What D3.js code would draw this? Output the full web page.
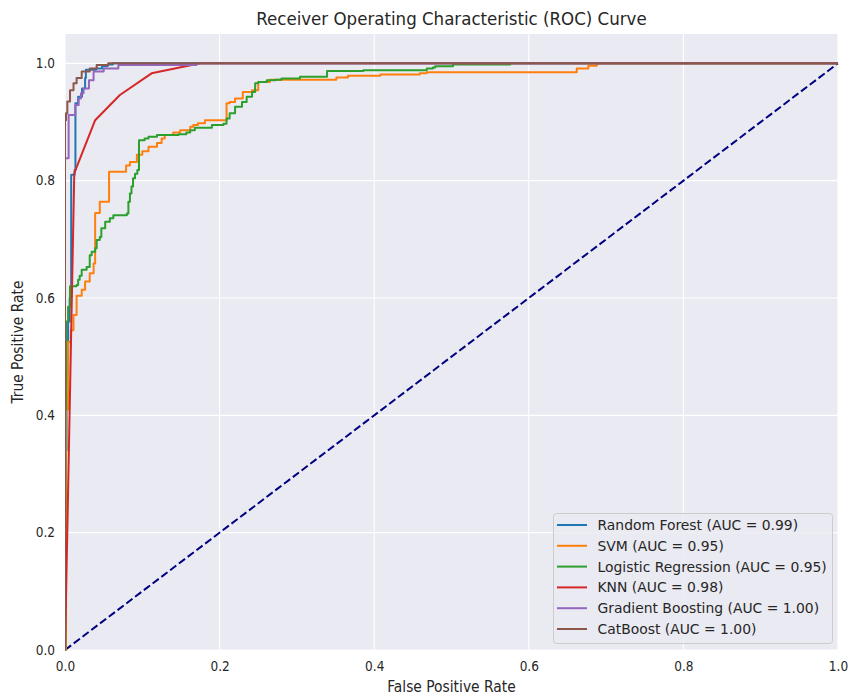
<!DOCTYPE html>
<html>
<head>
<meta charset="utf-8">
<script src="https://cdn.jsdelivr.net/npm/d3@7/dist/d3.min.js"></script>
<style>
  html, body { margin: 0; padding: 0; background: #ffffff; }
  svg { display: block; }
  .cond { font-family: "DejaVu Sans Condensed", "DejaVu Sans", sans-serif; font-stretch: condensed; }
  .leg { font-family: "DejaVu Sans", sans-serif; }
</style>
</head>
<body>
<svg id="chart" width="851" height="700"></svg>
<script>
// ROC points per model: [false positive rate, true positive rate]
const rfRoc = [[0,0],[0,0.34],[0.002,0.47],[0.004,0.56],[0.006,0.60],[0.008,0.81],[0.0125,0.818],[0.0135,0.932],[0.017,0.943],[0.022,0.957],[0.026,0.975],[0.027,0.989],[0.04,0.991],[0.048,0.995],[0.055,0.998],[0.062,1],[1,1]];
const svmRoc = [[0,0],[0.0013,0.41],[0.004,0.525],[0.0075,0.545],[0.011,0.571],[0.015,0.604],[0.0216,0.614],[0.026,0.628],[0.032,0.642],[0.037,0.659],[0.039,0.745],[0.045,0.764],[0.057,0.815],[0.079,0.826],[0.084,0.832],[0.093,0.844],[0.1,0.85],[0.108,0.858],[0.119,0.864],[0.125,0.872],[0.129,0.878],[0.14,0.882],[0.149,0.886],[0.162,0.892],[0.166,0.895],[0.172,0.898],[0.181,0.903],[0.209,0.932],[0.213,0.934],[0.22,0.94],[0.23,0.951],[0.242,0.954],[0.25,0.968],[0.265,0.972],[0.351,0.976],[0.366,0.979],[0.408,0.981],[0.459,0.983],[0.468,0.985],[0.662,0.991],[0.677,0.996],[0.688,1],[1,1]];
const lrRoc = [[0,0],[0.0005,0.41],[0.0013,0.56],[0.004,0.585],[0.0065,0.62],[0.015,0.622],[0.017,0.631],[0.019,0.638],[0.0216,0.648],[0.028,0.653],[0.032,0.673],[0.0345,0.679],[0.039,0.685],[0.041,0.699],[0.045,0.704],[0.047,0.719],[0.052,0.73],[0.058,0.736],[0.0625,0.741],[0.08,0.744],[0.082,0.764],[0.084,0.778],[0.086,0.79],[0.088,0.804],[0.0906,0.812],[0.0936,0.818],[0.0957,0.869],[0.103,0.872],[0.108,0.875],[0.119,0.878],[0.147,0.879],[0.157,0.882],[0.162,0.886],[0.168,0.89],[0.19,0.895],[0.205,0.897],[0.209,0.906],[0.213,0.915],[0.22,0.926],[0.229,0.934],[0.235,0.943],[0.242,0.951],[0.246,0.966],[0.25,0.968],[0.261,0.971],[0.272,0.972],[0.28,0.974],[0.304,0.977],[0.339,0.987],[0.386,0.988],[0.468,0.991],[0.476,0.993],[0.479,0.995],[0.502,0.998],[0.576,1],[1,1]];
const knnRoc = [[0,0],[0.012,0.813],[0.039,0.903],[0.071,0.946],[0.112,0.983],[0.175,1],[1,1]];
const gbRoc = [[0,0],[0,0.838],[0.0047,0.912],[0.0134,0.929],[0.0177,0.94],[0.0207,0.949],[0.024,0.957],[0.031,0.971],[0.037,0.986],[0.05,0.991],[0.069,0.997],[0.17,1],[1,1]];
const cbRoc = [[0,0],[0,0.903],[0.0013,0.915],[0.003,0.935],[0.0065,0.954],[0.011,0.966],[0.015,0.975],[0.0216,0.986],[0.032,0.991],[0.041,0.997],[0.056,1],[1,1]];

const modelNames = ["Random Forest", "SVM", "Logistic Regression", "KNN", "Gradient Boosting", "CatBoost"];
const aucValues = ["0.99", "0.95", "0.95", "0.98", "1.00", "1.00"];
const modelColors = ["#1f77b4", "#ff7f0e", "#2ca02c", "#d62728", "#9467bd", "#8c564b"];
const modelCurves = [rfRoc, svmRoc, lrRoc, knnRoc, gbRoc, cbRoc];
const stepped = [true, true, true, false, true, true];

const xTicks = [0, 0.2, 0.4, 0.6, 0.8, 1.0];
const yTicks = [0, 0.2, 0.4, 0.6, 0.8, 1.0];

const svg = d3.select("#chart");
const plotLeft = 65, plotRight = 838, plotTop = 34, plotBottom = 650;
const x = d3.scaleLinear().domain([0, 1]).range([plotLeft, plotRight]);
const y = d3.scaleLinear().domain([0, 1.05]).range([plotBottom, plotTop]);

// plot background
svg.append("rect").attr("x", plotLeft).attr("y", plotTop)
  .attr("width", plotRight - plotLeft).attr("height", plotBottom - plotTop)
  .attr("fill", "#eaeaf2");

svg.append("clipPath").attr("id", "plotclip")
  .append("rect").attr("x", plotLeft).attr("y", plotTop - 2)
  .attr("width", plotRight - plotLeft + 2).attr("height", plotBottom - plotTop + 4);

// grid
const grid = svg.append("g");
grid.selectAll("line.gx").data(xTicks).join("line").attr("class", "gx")
  .attr("x1", d => x(d)).attr("x2", d => x(d))
  .attr("y1", plotTop).attr("y2", plotBottom)
  .attr("stroke", "#ffffff").attr("stroke-width", 1.1);
grid.selectAll("line.gy").data(yTicks).join("line").attr("class", "gy")
  .attr("y1", d => y(d)).attr("y2", d => y(d))
  .attr("x1", plotLeft).attr("x2", plotRight)
  .attr("stroke", "#ffffff").attr("stroke-width", 1.1);

// axes (labels only, no tick marks or domain line)
const xAxis = d3.axisBottom(x).tickValues(xTicks).tickFormat(d3.format(".1f")).tickSize(0).tickPadding(11);
const yAxis = d3.axisLeft(y).tickValues(yTicks).tickFormat(d3.format(".1f")).tickSize(0).tickPadding(10);
const gx = svg.append("g").attr("transform", `translate(0,${plotBottom})`).call(xAxis);
const gy = svg.append("g").attr("transform", `translate(${plotLeft},0)`).call(yAxis);
[gx, gy].forEach(g => {
  g.select(".domain").remove();
  g.selectAll("text").attr("class", "cond").attr("font-size", 13.5).attr("fill", "#262626");
});

const plot = svg.append("g").attr("clip-path", "url(#plotclip)");

// chance diagonal
plot.append("line")
  .attr("x1", x(0)).attr("y1", y(0)).attr("x2", x(1)).attr("y2", y(1))
  .attr("stroke", "#000080").attr("stroke-width", 2)
  .attr("stroke-dasharray", "7.7,3.3");

// ROC curves
modelCurves.forEach((pts, i) => {
  const line = d3.line()
    .x(d => x(d[0])).y(d => y(d[1]))
    .curve(stepped[i] ? d3.curveStepAfter : d3.curveLinear);
  plot.append("path").datum(pts)
    .attr("d", line)
    .attr("fill", "none")
    .attr("stroke", modelColors[i])
    .attr("stroke-width", 2)
    .attr("stroke-linejoin", "round");
});

// title and axis labels
svg.append("text").attr("class", "cond")
  .attr("x", (plotLeft + plotRight) / 2).attr("y", 25)
  .attr("text-anchor", "middle").attr("font-size", 18.5).attr("fill", "#262626")
  .text("Receiver Operating Characteristic (ROC) Curve");
svg.append("text").attr("class", "cond")
  .attr("x", (plotLeft + plotRight) / 2).attr("y", 692)
  .attr("text-anchor", "middle").attr("font-size", 15.4).attr("fill", "#262626")
  .text("False Positive Rate");
svg.append("text").attr("class", "cond")
  .attr("transform", `translate(23,${(plotTop + plotBottom) / 2}) rotate(-90)`)
  .attr("text-anchor", "middle").attr("font-size", 15.4).attr("fill", "#262626")
  .text("True Positive Rate");

// legend
const lg = svg.append("g");
lg.append("rect").attr("x", 553.5).attr("y", 513.5).attr("width", 279).attr("height", 130)
  .attr("rx", 3).attr("fill", "#eaeaf2").attr("fill-opacity", 0.85)
  .attr("stroke", "#cccccc").attr("stroke-width", 1);
modelNames.forEach((name, i) => {
  const ry = 525 + i * 20.8;
  lg.append("line").attr("x1", 557).attr("x2", 587).attr("y1", ry).attr("y2", ry)
    .attr("stroke", modelColors[i]).attr("stroke-width", 2);
  lg.append("text").attr("class", "leg")
    .attr("x", 597.5).attr("y", ry + 5)
    .attr("font-size", 13.9).attr("fill", "#262626")
    .text(`${name} (AUC = ${aucValues[i]})`);
});
</script>
</body>
</html>
